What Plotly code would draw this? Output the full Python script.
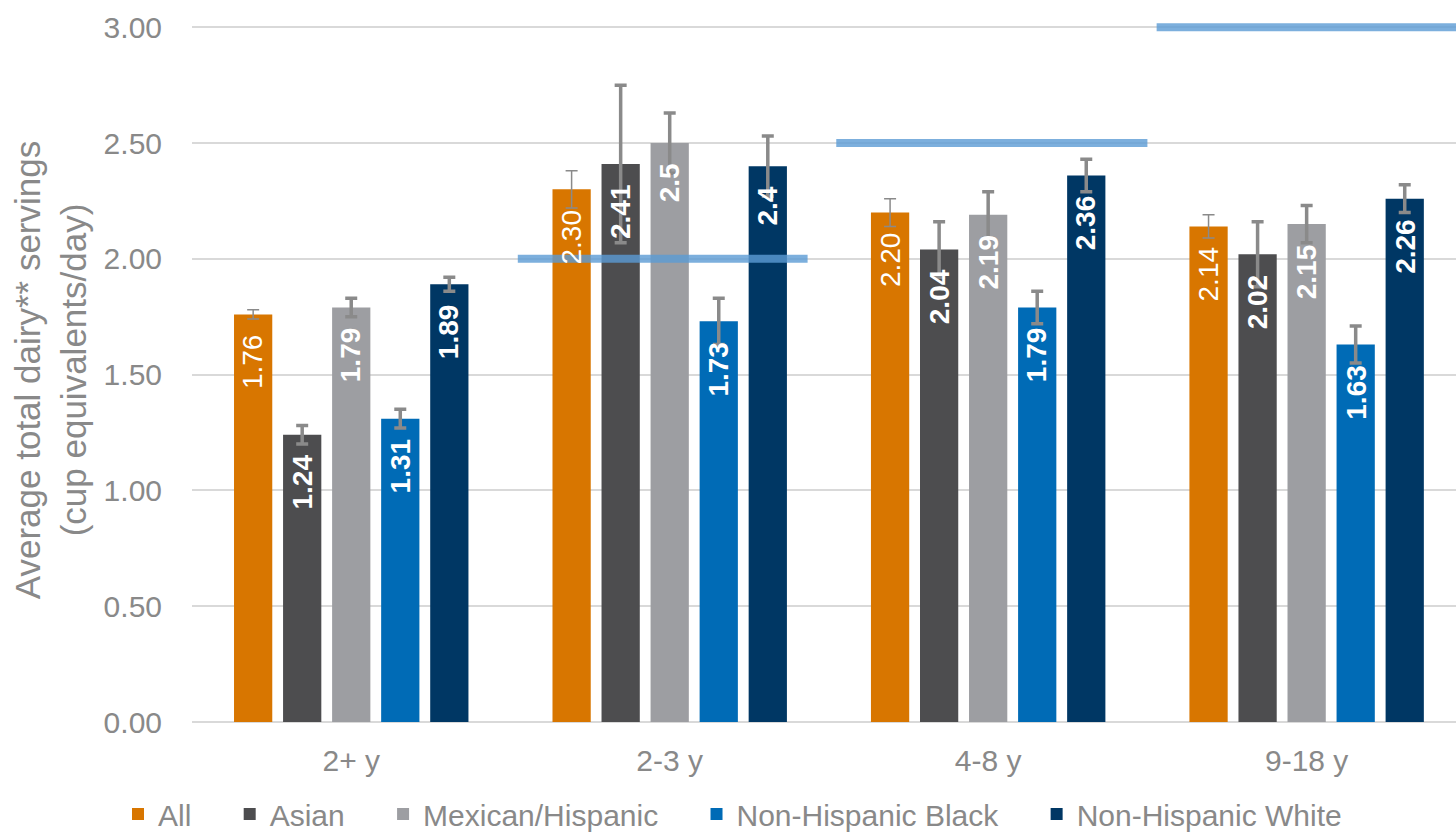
import plotly.graph_objects as go

# Age groups on the x axis
age_groups = ["2+ y", "2-3 y", "4-8 y", "9-18 y"]

# Mean total dairy intake (cup equivalents/day) by group
series_names = ["All", "Asian", "Mexican/Hispanic", "Non-Hispanic Black", "Non-Hispanic White"]
all_vals = [1.76, 2.30, 2.20, 2.14]
asian_vals = [1.24, 2.41, 2.04, 2.02]
mexican_vals = [1.79, 2.50, 2.19, 2.15]
nh_black_vals = [1.31, 1.73, 1.79, 1.63]
nh_white_vals = [1.89, 2.40, 2.36, 2.26]

# Standard errors shown as error bars
all_err = [0.02, 0.08, 0.06, 0.05]
asian_err = [0.04, 0.34, 0.12, 0.14]
mexican_err = [0.04, 0.13, 0.10, 0.08]
nh_black_err = [0.04, 0.10, 0.07, 0.08]
nh_white_err = [0.03, 0.13, 0.07, 0.06]

# Recommended intake per age group (none drawn for 2+ y)
recommended = [None, 2.0, 2.5, 3.0]

y_ticks = [0.0, 0.5, 1.0, 1.5, 2.0, 2.5, 3.0]

colors = ["#d87600", "#4d4d4f", "#9d9ea2", "#006bb6", "#003764"]
values = [all_vals, asian_vals, mexican_vals, nh_black_vals, nh_white_vals]
errors = [all_err, asian_err, mexican_err, nh_black_err, nh_white_err]

FONT = "Liberation Sans, Arial, sans-serif"
GREY_TEXT = "#898989"

# Layout geometry
W, H = 1456, 835
M_L, M_R, M_T, M_B = 192, 0, 18, 113
X_RANGE = [-0.5, 3.469]
BARGAP, BARGROUPGAP = 0.23, 0.22
n_series = len(series_names)
px_per_cat = (W - M_L - M_R) / (X_RANGE[1] - X_RANGE[0])
slot_px = px_per_cat * (1 - BARGAP) / n_series

fig = go.Figure()
for i, (name, vals, errs, col) in enumerate(zip(series_names, values, errors, colors)):
    is_all = i == 0
    fig.add_trace(go.Bar(
        name=name + "\u00a0" * 4,
        x=age_groups,
        y=vals,
        marker=dict(color=col, line=dict(width=0)),
        error_y=dict(type="data", array=errs, visible=True,
                     color="#8a8a8a",
                     thickness=1.5 if is_all else 3.5,
                     width=6),
        hoverinfo="skip",
    ))

# Value labels, rotated, just below the top of each bar
for i, vals in enumerate(values):
    is_all = i == 0
    for cat, v in zip(age_groups, vals):
        label = f"{v:.2f}" if is_all else f"{v:g}"
        fig.add_annotation(
            x=cat, y=v, xref="x", yref="y",
            text=label if is_all else f"<b>{label}</b>",
            textangle=-90, showarrow=False,
            xanchor="center", yanchor="top",
            xshift=(i - (n_series - 1) / 2) * slot_px, yshift=-18,
            font=dict(family=FONT, size=28, color="white"),
        )

# Recommendation lines drawn across each age group
shape_spans = [None, (-0.477, 0.433), (-0.477, 0.50), (-0.471, 0.55)]
for idx, rec in enumerate(recommended):
    if rec is None:
        continue
    left, right = shape_spans[idx]
    fig.add_shape(type="line", xref="x", yref="y",
                  x0=idx + left, x1=idx + right, y0=rec, y1=rec,
                  line=dict(color="rgba(91,155,213,0.8)", width=8),
                  layer="above")

fig.update_layout(
    width=W, height=H,
    margin=dict(l=M_L, r=M_R, t=M_T, b=M_B),
    paper_bgcolor="white", plot_bgcolor="white",
    barmode="group", bargap=BARGAP, bargroupgap=BARGROUPGAP,
    font=dict(family=FONT, color=GREY_TEXT),
    showlegend=True,
    legend=dict(orientation="h", xref="container", yref="container",
                x=118 / W, y=(H - 814) / H,
                xanchor="left", yanchor="middle",
                itemwidth=30,
                font=dict(family=FONT, size=30, color=GREY_TEXT),
                itemclick=False, itemdoubleclick=False,
                traceorder="normal"),
)

fig.update_xaxes(
    type="category", range=X_RANGE,
    showgrid=False, showline=False, ticks="", ticklabelstandoff=18,
    tickfont=dict(family=FONT, size=30, color=GREY_TEXT),
    fixedrange=True,
)
fig.update_yaxes(
    range=[0, 3.04], tickvals=y_ticks, tickformat=".2f",
    showgrid=True, gridcolor="#d9d9d9", gridwidth=1.5,
    zeroline=True, zerolinecolor="#d9d9d9", zerolinewidth=1.5,
    showline=False, ticks="", ticklabelstandoff=29,
    tickfont=dict(family=FONT, size=30, color=GREY_TEXT),
    title=dict(text="Average total dairy** servings<br>(cup equivalents/day)",
               font=dict(family=FONT, size=35, color=GREY_TEXT), standoff=6),
    automargin=False, fixedrange=True,
)

fig.write_html("out.html")
